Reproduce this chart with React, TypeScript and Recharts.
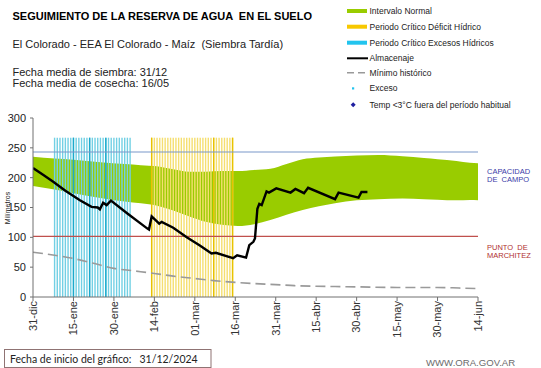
import React from 'react';
import {
  ComposedChart,
  Area,
  Line,
  XAxis,
  YAxis,
  ReferenceLine,
} from 'recharts';

// ---- Data (day 0 = 31-dic) ----
const tickDays = [0, 15, 30, 45, 60, 75, 90, 105, 120, 135, 150, 165];
const tickLabels = ['31-dic', '15-ene', '30-ene', '14-feb', '01-mar', '16-mar', '31-mar', '15-abr', '30-abr', '15-may', '30-may', '14-jun'];
const yTicks = [0, 50, 100, 150, 200, 250, 300];

// Intervalo normal (banda verde)
const bandDays = [0, 8, 15, 25, 34, 40, 46, 52, 58, 64, 70, 76, 82, 88, 94, 100, 106, 112, 120, 128, 137, 145, 150, 157, 162, 165];
const bandLow = [186, 180, 174, 166, 160, 157, 153, 145, 135, 126, 121, 119, 122, 129, 138, 146, 152, 157, 162, 164, 165, 164, 163, 162, 162.5, 162];
const bandHigh = [235, 232, 230, 226, 223, 221, 219, 214, 210, 210, 211, 211, 213, 215, 223, 231, 234, 235.5, 237, 238, 236, 233, 231, 228, 225, 224];

// Almacenaje (línea negra)
const almDays = [0, 4, 7.5, 12, 17.4, 21.7, 24, 24.8, 26, 27.3, 28.9, 35, 42.3, 43, 44, 46.8, 47.7, 52, 57, 62, 66.2, 67.8, 74.2, 75.7, 79, 80.2, 81.7, 82.3, 83.2, 83.9, 84.8, 86.6, 87.5, 90.2, 95.5, 97.3, 100.5, 102, 112, 113.3, 120.7, 121.8, 124];
const almValues = [216, 204, 193, 178, 162, 151, 150, 147, 158, 154, 161.5, 140, 115, 113, 135, 123, 126, 116, 100, 86, 73, 74, 65, 70, 66, 87, 92.5, 98, 148, 156, 154, 177, 175, 182, 175, 181, 174, 183, 164, 175, 166.5, 176, 176];

// Mínimo histórico (línea gris discontinua)
const minDays = [0, 8, 15, 22, 30, 37, 45, 52, 60, 67, 75, 82, 90, 97, 105, 112, 120, 135, 150, 158, 165];
const minValues = [75, 70, 64.5, 57, 48, 44, 39.5, 35, 31, 27.5, 24.5, 22.5, 20.8, 19, 18, 17.5, 17, 16, 16, 15, 14];

// Períodos críticos (líneas verticales)
const excesoDays = [8, 9, 10, 11, 12, 13, 14, 15, 16, 17, 18, 19, 20, 21, 22, 23, 24, 25, 26, 27, 28, 29, 30, 31, 32, 33, 34, 35, 36];
const excesoDarkDays = [15, 21, 27];
const deficitDays = [44, 45, 46, 47, 48, 49, 50, 51, 52, 53, 54, 55, 56, 57, 58, 59, 60, 61, 62, 63, 64, 65, 66, 67, 68, 69, 70, 71, 72, 73, 74];
const deficitDarkDays = [44, 67, 74];
const periodTop = 267;

const capacidadCampo = 243;
const puntoMarchitez = 101.5;

const bandData = bandDays.map((d, i) => ({ day: d, range: [bandLow[i], bandHigh[i]] }));
const almData = almDays.map((d, i) => ({ day: d, alm: almValues[i] }));
const minData = minDays.map((d, i) => ({ day: d, min: minValues[i] }));

const FONT = '"Liberation Sans", Arial, sans-serif';

const XTick = (props: any) => {
  const { x, y, payload } = props;
  const idx = tickDays.indexOf(payload.value);
  return (
    <text
      x={0}
      y={0}
      transform={`translate(${x},${y}) rotate(-90)`}
      textAnchor="end"
      dy="0.35em"
      fontSize={11}
      fontFamily={FONT}
      fill="#333"
    >
      {idx >= 0 ? tickLabels[idx] : ''}
    </text>
  );
};

export default function App() {
  const W = 541;
  const H = 368;
  return (
    <div style={{ position: 'absolute', left: 0, top: 0, width: W, height: H, background: '#fff' }}>
      <ComposedChart
        width={W}
        height={H}
        data={bandData}
        margin={{ top: 118, right: 63, bottom: 31, left: 0 }}
      >
        <XAxis
          dataKey="day"
          type="number"
          domain={[0, 165]}
          ticks={tickDays}
          interval={0}
          allowDataOverflow
          height={40}
          tickSize={4}
          tickMargin={0}
          tick={<XTick />}
          stroke="#707070"
        />
        <YAxis
          type="number"
          domain={[0, 300]}
          ticks={yTicks}
          interval={0}
          width={33}
          tickSize={3}
          tickMargin={4}
          stroke="#707070"
          tick={{ fontSize: 11, fontFamily: FONT, fill: '#222' }}
        />
        <Area
          dataKey="range"
          type="monotone"
          stroke="none"
          fill="#99cc00"
          fillOpacity={1}
          isAnimationActive={false}
          activeDot={false}
        />
        {excesoDays.map((d) => (
          <ReferenceLine
            key={'e' + d}
            segment={[{ x: d, y: 0 }, { x: d, y: periodTop }]}
            stroke="#72d0e4"
            strokeWidth={1.4}
          />
        ))}
        {excesoDarkDays.map((d) => (
          <ReferenceLine
            key={'ed' + d}
            segment={[{ x: d, y: 0 }, { x: d, y: periodTop }]}
            stroke="#1aa9cc"
            strokeWidth={1.4}
          />
        ))}
        {deficitDays.map((d) => (
          <ReferenceLine
            key={'d' + d}
            segment={[{ x: d, y: 0 }, { x: d, y: periodTop }]}
            stroke="#f5df70"
            strokeWidth={1.4}
          />
        ))}
        {deficitDarkDays.map((d) => (
          <ReferenceLine
            key={'dd' + d}
            segment={[{ x: d, y: 0 }, { x: d, y: periodTop }]}
            stroke="#e8c300"
            strokeWidth={1.4}
          />
        ))}
        <ReferenceLine y={capacidadCampo} stroke="#7b97c9" strokeWidth={1.2} />
        <ReferenceLine y={puntoMarchitez} stroke="#c0504d" strokeWidth={1.2} />
        <Line
          data={minData}
          dataKey="min"
          type="monotone"
          stroke="#9a9a9a"
          strokeWidth={1.6}
          strokeDasharray="10 5"
          dot={false}
          activeDot={false}
          isAnimationActive={false}
        />
        <Line
          data={almData}
          dataKey="alm"
          type="linear"
          stroke="#000"
          strokeWidth={2.4}
          dot={false}
          activeDot={false}
          isAnimationActive={false}
        />
      </ComposedChart>

      <svg
        width={W}
        height={H}
        style={{ position: 'absolute', left: 0, top: 0, pointerEvents: 'none' }}
        fontFamily={FONT}
      >
        <text x={12.5} y={20} fontSize={11} fontWeight="bold" fill="#000" style={{ whiteSpace: 'pre' }}>
          SEGUIMIENTO DE LA RESERVA DE AGUA  EN EL SUELO
        </text>
        <text x={12.5} y={47.5} fontSize={11} fill="#222" style={{ whiteSpace: 'pre' }}>
          El Colorado - EEA El Colorado - Maíz  (Siembra Tardía)
        </text>
        <text x={12.5} y={75.5} fontSize={11} fill="#222">Fecha media de siembra: 31/12</text>
        <text x={12.5} y={86.5} fontSize={11} fill="#222">Fecha media de cosecha: 16/05</text>

        {/* Legend */}
        <rect x={347} y={9} width={20} height={4} fill="#99cc00" />
        <text x={369.5} y={14} fontSize={8.5} fill="#222">Intervalo Normal</text>
        <rect x={347} y={24.7} width={20} height={4} fill="#f7c800" />
        <text x={369.5} y={29.7} fontSize={8.5} fill="#222">Periodo Crítico Déficit Hídrico</text>
        <rect x={347} y={40.7} width={20} height={4} fill="#22c4ee" />
        <text x={369.5} y={45.7} fontSize={8.5} fill="#222">Periodo Crítico Excesos Hídricos</text>
        <line x1={347} x2={368} y1={58.3} y2={58.3} stroke="#000" strokeWidth={2} />
        <text x={369.5} y={61.3} fontSize={8.5} fill="#222">Almacenaje</text>
        <line x1={347} x2={368} y1={72.7} y2={72.7} stroke="#999" strokeWidth={1.5} strokeDasharray="7 4" />
        <text x={369.5} y={75.7} fontSize={8.5} fill="#222">Mínimo histórico</text>
        <rect x={352} y={87.3} width={2.2} height={2.2} fill="#22c4ee" />
        <text x={369.5} y={91.3} fontSize={8.5} fill="#222">Exceso</text>
        <path d="M353.2,102.3 L355.7,104.8 L353.2,107.3 L350.7,104.8 Z" fill="#1f1fa0" />
        <text x={369.5} y={108} fontSize={8.5} fill="#222">Temp &lt;3°C fuera del período habitual</text>

        {/* Right side labels */}
        <text x={487} y={173.5} fontSize={7.5} fill="#3b3ba8">CAPACIDAD</text>
        <text x={487} y={182} fontSize={7.5} fill="#3b3ba8" style={{ whiteSpace: 'pre' }}>DE  CAMPO</text>
        <text x={487} y={249.5} fontSize={7.5} fill="#b03030" style={{ whiteSpace: 'pre' }}>PUNTO  DE</text>
        <text x={487} y={258} fontSize={7.5} fill="#b03030">MARCHITEZ</text>

        {/* Y axis label */}
        <text
          x={0}
          y={0}
          transform="translate(10,208) rotate(-90)"
          textAnchor="middle"
          fontSize={7}
          fill="#222"
        >
          Milímetros
        </text>

        {/* Footer */}
        <rect x={4.5} y={349.5} width={206.5} height={18} fill="none" stroke="#8f7373" strokeWidth={1} />
        <text x={10} y={363} fontSize={10.5} fill="#222" fontFamily="Lato, 'Open Sans', sans-serif" style={{ whiteSpace: 'pre' }}>
          Fecha de inicio del gráfico:   31/12/2024
        </text>
        <text x={426} y={365.5} fontSize={9.6} fill="#6b6b6b">WWW.ORA.GOV.AR</text>
      </svg>
    </div>
  );
}
